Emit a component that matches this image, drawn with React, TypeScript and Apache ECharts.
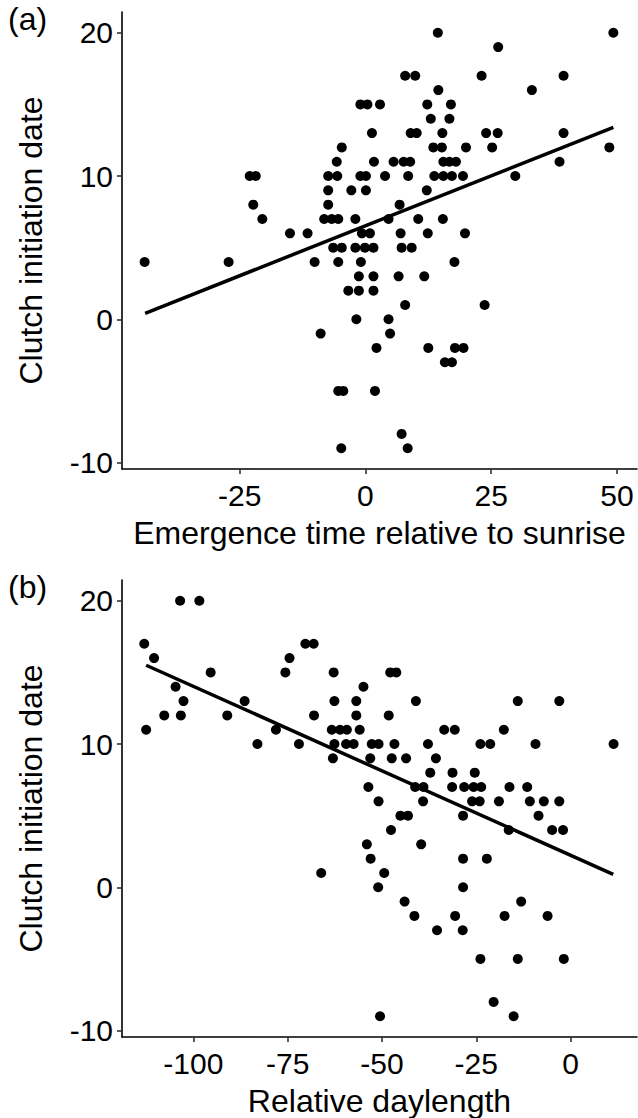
import React, { useEffect, useRef } from "react";
import * as echarts from "echarts";

// Panel (a): clutch initiation dates (rows) and emergence times at each date
const datesA = [20, 19, 17, 16, 15, 14, 13, 12, 11, 10, 9, 8, 7, 6, 5, 4, 3, 2, 1, 0, -1, -2, -3, -5, -8, -9];
const emergenceA = [
  [14.4, 49.3],
  [26.4],
  [7.9, 9.9, 23.1, 39.4],
  [14.5, 33.1],
  [-1.0, 0.4, 2.9, 12.3, 17.0],
  [13.0, 16.7],
  [1.3, 9.0, 10.2, 15.3, 24.0, 26.3, 39.4],
  [-4.7, 13.5, 15.2, 20.0, 25.2, 48.5],
  [-5.7, 1.7, 5.6, 7.6, 8.9, 15.5, 16.7, 18.0, 38.6],
  [-23.0, -21.8, -7.4, -5.6, -1.0, 0.1, 3.9, 8.5, 13.7, 15.5, 17.2, 19.4, 29.8],
  [-7.4, -2.8, 0.1, 12.2],
  [-22.3, -7.4, 6.8],
  [-20.5, -8.2, -6.7, -5.4, -2.0, 4.6, 10.5, 15.4],
  [-15.0, -11.5, -0.7, 0.9, 7.0, 12.4, 19.8],
  [-6.4, -4.7, -2.0, -0.1, 1.6, 7.2, 9.2],
  [-43.9, -27.2, -10.1, -5.4, -0.9, 17.7],
  [-1.3, 1.6, 6.6, 11.7],
  [-3.4, -1.3, 1.6],
  [7.9, 23.7],
  [-1.8, 4.6],
  [-8.9, 4.9],
  [2.2, 12.5, 17.8, 19.5],
  [15.8, 17.2],
  [-5.4, -4.4, 1.9],
  [7.2],
  [-4.8, 8.4],
];
const fitA = [[-43.8, 0.42], [49.3, 13.4]];

// Panel (b): clutch initiation dates (rows) and relative daylength at each date
const datesB = [20, 17, 16, 15, 14, 13, 12, 11, 10, 9, 8, 7, 6, 5, 4, 3, 2, 1, 0, -1, -2, -3, -5, -8, -9];
const daylengthB = [
  [-103.5, -98.4],
  [-113, -70.3, -68.1],
  [-110.4, -74.5],
  [-95.4, -75.6, -62.8, -47.8, -46.2],
  [-104.7, -54.9],
  [-102.6, -86.4, -62.6, -56.8, -41, -14, -3],
  [-107.7, -103.3, -91, -68, -56.8, -48.2],
  [-112.5, -78.1, -63.3, -61.1, -59.3, -55.9, -33.5, -30.7, -17.7],
  [-83, -72, -62.6, -59.5, -57.5, -52.7, -50.9, -46.7, -37.8, -23.9, -21.3, -9.3, 11.4],
  [-63, -53.1, -47.4, -43.6, -35.7],
  [-37.2, -31.3, -25.4],
  [-53.6, -41.2, -39, -31.4, -28.2, -25.7, -23.7, -16.2, -11.5],
  [-50.9, -39.1, -26.1, -24.1, -19, -10.8, -7.1, -3],
  [-45.1, -43.1, -28.5, -8.5],
  [-47.6, -16.4, -4.9, -2],
  [-54, -39.6],
  [-53, -28.5, -22.2],
  [-66.1, -49.4],
  [-51, -28.5],
  [-44, -13.1],
  [-41.4, -30.6, -17.5, -6.1],
  [-35.4, -28.6],
  [-23.9, -14, -1.8],
  [-20.4],
  [-50.5, -15.1],
];
const fitB = [[-112.5, 15.5], [11.3, 0.9]];

const xTicksA = [-25, 0, 25, 50];
const xTicksB = [-100, -75, -50, -25, 0];
const yTicks = [-10, 0, 10, 20];

const FONT = "'Liberation Sans', Arial, sans-serif";
const TICK_FS = 30;
const TITLE_FS = 32;

function pairs(dates: number[], xs: number[][]) {
  const out: number[][] = [];
  dates.forEach((d, i) => xs[i].forEach((x) => out.push([x, d])));
  return out;
}

function xAxis(gridIndex: number, min: number, max: number, ticks: number[], name: string) {
  return {
    type: "value",
    gridIndex,
    min,
    max,
    name,
    nameLocation: "middle",
    nameGap: 48,
    nameTextStyle: { fontSize: TITLE_FS, color: "#000", fontFamily: FONT },
    axisLine: { show: true, onZero: false, lineStyle: { color: "#000", width: 1.6 } },
    axisTick: { show: true, inside: false, length: 5, customValues: ticks, lineStyle: { color: "#333", width: 1.6 } },
    axisLabel: { show: true, margin: 11, customValues: ticks, fontSize: TICK_FS, color: "#000", fontFamily: FONT },
    splitLine: { show: false },
  };
}

function yAxis(gridIndex: number) {
  return {
    type: "value",
    gridIndex,
    min: -10.45,
    max: 21.45,
    name: "Clutch initiation date",
    nameLocation: "middle",
    nameRotate: 90,
    nameGap: 75,
    nameTextStyle: { fontSize: TITLE_FS, color: "#000", fontFamily: FONT },
    axisLine: { show: true, onZero: false, lineStyle: { color: "#000", width: 1.6 } },
    axisTick: { show: true, inside: false, length: 5, customValues: yTicks, lineStyle: { color: "#333", width: 1.6 } },
    axisLabel: { show: true, margin: 9, customValues: yTicks, fontSize: TICK_FS, color: "#000", fontFamily: FONT },
    splitLine: { show: false },
  };
}

export default function App() {
  const ref = useRef<HTMLDivElement>(null);
  useEffect(() => {
    if (!ref.current) return;
    const chart = echarts.init(ref.current, undefined, { renderer: "svg" });
    chart.setOption({
      animation: false,
      backgroundColor: "#fff",
      grid: [
        { left: 122, top: 12, width: 515, height: 457 },
        { left: 122, top: 580, width: 515, height: 457 },
      ],
      xAxis: [
        xAxis(0, -48.4, 54, xTicksA, "Emergence time relative to sunrise"),
        xAxis(1, -118.9, 17.6, xTicksB, "Relative daylength"),
      ],
      yAxis: [yAxis(0), yAxis(1)],
      graphic: [
        { type: "text", left: 8, top: 3, style: { text: "(a)", fontSize: TITLE_FS, fill: "#000", fontFamily: FONT } },
        { type: "text", left: 8, top: 571, style: { text: "(b)", fontSize: TITLE_FS, fill: "#000", fontFamily: FONT } },
      ],
      series: [
        {
          type: "scatter",
          xAxisIndex: 0,
          yAxisIndex: 0,
          data: pairs(datesA, emergenceA),
          symbol: "circle",
          symbolSize: 10,
          itemStyle: { color: "#000", opacity: 1 },
        },
        {
          type: "line",
          xAxisIndex: 0,
          yAxisIndex: 0,
          data: fitA,
          showSymbol: false,
          lineStyle: { color: "#000", width: 3.5 },
        },
        {
          type: "scatter",
          xAxisIndex: 1,
          yAxisIndex: 1,
          data: pairs(datesB, daylengthB),
          symbol: "circle",
          symbolSize: 10,
          itemStyle: { color: "#000", opacity: 1 },
        },
        {
          type: "line",
          xAxisIndex: 1,
          yAxisIndex: 1,
          data: fitB,
          showSymbol: false,
          lineStyle: { color: "#000", width: 3.5 },
        },
      ],
    });
    return () => chart.dispose();
  }, []);
  return (
    <div
      ref={ref}
      style={{ position: "absolute", left: 0, top: 0, width: 638, height: 1118, background: "#fff" }}
    />
  );
}
